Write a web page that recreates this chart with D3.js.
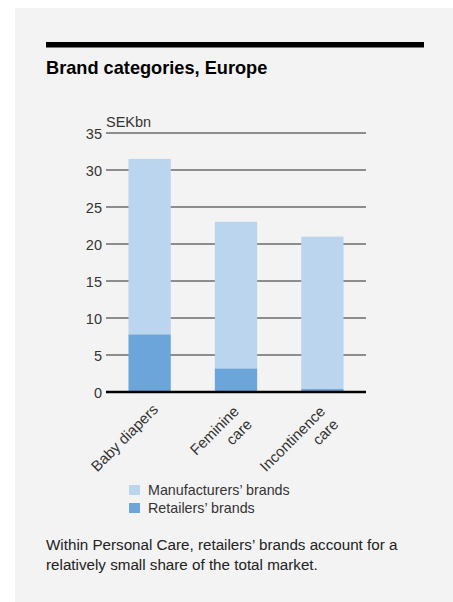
<!DOCTYPE html>
<html>
<head>
<meta charset="utf-8">
<script src="https://cdn.jsdelivr.net/npm/d3@7"></script>
<style>
  html, body { margin: 0; padding: 0; background: #ffffff; }
  svg { display: block; }
  text { font-family: "Liberation Sans", Arial, sans-serif; }
</style>
</head>
<body>
<svg id="chart" width="453" height="602"></svg>
<script>
// Brand categories in Europe, market size in SEKbn
const categories = ["Baby diapers", "Feminine care", "Incontinence care"];
const categoryLines = [["Baby diapers"], ["Feminine", "care"], ["Incontinence", "care"]];
const retailers = [7.8, 3.2, 0.4];
const manufacturers = [23.7, 19.8, 20.6];
const yTicks = [0, 5, 10, 15, 20, 25, 30, 35];
const seriesNames = ["Manufacturers\u2019 brands", "Retailers\u2019 brands"];

const colors = { manufacturers: "#bbd5ef", retailers: "#6ba5d9" };

const svg = d3.select("#chart");

// panel background
svg.append("rect").attr("x", 15).attr("y", 8).attr("width", 438).attr("height", 594).attr("fill", "#f3f3f3");

// heading rule and title
svg.append("rect").attr("x", 46).attr("y", 42).attr("width", 378).attr("height", 5.5).attr("fill", "#000");
svg.append("text").attr("x", 46).attr("y", 74)
  .attr("font-size", 18.2).attr("font-weight", "bold").attr("fill", "#000")
  .text("Brand categories, Europe");

const x = d3.scaleBand().domain(categories).range([106, 366]).paddingInner(0.51).paddingOuter(0.26);
const y = d3.scaleLinear().domain([0, 35]).range([392, 133]);

// gridlines
const g = svg.append("g");
g.selectAll("line.grid").data(yTicks.filter(d => d > 0)).join("line")
  .attr("class", "grid")
  .attr("x1", 106).attr("x2", 366)
  .attr("y1", d => y(d)).attr("y2", d => y(d))
  .attr("stroke", "#6b6b6b").attr("stroke-width", 1.3);

// y axis labels
const yAxis = d3.axisLeft(y).tickValues(yTicks).tickSize(0).tickPadding(4);
const ya = svg.append("g").attr("transform", "translate(106,0)").call(yAxis);
ya.select(".domain").remove();
ya.selectAll("text").attr("font-size", 14.5).attr("fill", "#333")
  .attr("font-family", "Liberation Sans, Arial, sans-serif").attr("dy", "0.36em");

svg.append("text").attr("x", 106).attr("y", 127).attr("font-size", 14.5).attr("fill", "#333").text("SEKbn");

// stacked bars
const stackData = categories.map((c, i) => ({ cat: c, retailers: retailers[i], manufacturers: manufacturers[i] }));
const stack = d3.stack().keys(["retailers", "manufacturers"])(stackData);
svg.append("g").selectAll("g").data(stack).join("g")
  .attr("fill", d => colors[d.key])
  .selectAll("rect").data(d => d).join("rect")
  .attr("x", d => x(d.data.cat))
  .attr("width", x.bandwidth())
  .attr("y", d => y(d[1]))
  .attr("height", d => y(d[0]) - y(d[1]));

// zero baseline
svg.append("line").attr("x1", 106).attr("x2", 366).attr("y1", y(0)).attr("y2", y(0))
  .attr("stroke", "#000").attr("stroke-width", 2.6);

// rotated category labels
categories.forEach((c, i) => {
  const lines = categoryLines[i];
  const single = lines.length === 1;
  const cx = x(c) + x.bandwidth() / 2 + (single ? 1 : -6.5);
  const t = svg.append("text")
    .attr("transform", `translate(${cx},${402}) rotate(-45)`)
    .attr("text-anchor", "end").attr("font-size", 15).attr("fill", "#333");
  lines.forEach((l, j) => {
    t.append("tspan").attr("x", 0)
      .attr("dy", j === 0 ? (single ? 12 : 14.7) : 18.4)
      .text(l);
  });
});

// legend
const legend = svg.append("g");
const legendColors = [colors.manufacturers, colors.retailers];
seriesNames.forEach((n, i) => {
  legend.append("rect").attr("x", 129).attr("y", 485 + i * 18).attr("width", 11).attr("height", 10).attr("fill", legendColors[i]);
  legend.append("text").attr("x", 148).attr("y", 495 + i * 18).attr("font-size", 14.3).attr("fill", "#333").text(n);
});

// caption
const caption = ["Within Personal Care, retailers\u2019 brands account for a", "relatively small share of the total market."];
caption.forEach((l, i) => {
  svg.append("text").attr("x", 46).attr("y", 550 + i * 20).attr("font-size", 15.2).attr("fill", "#222").text(l);
});
</script>
</body>
</html>
